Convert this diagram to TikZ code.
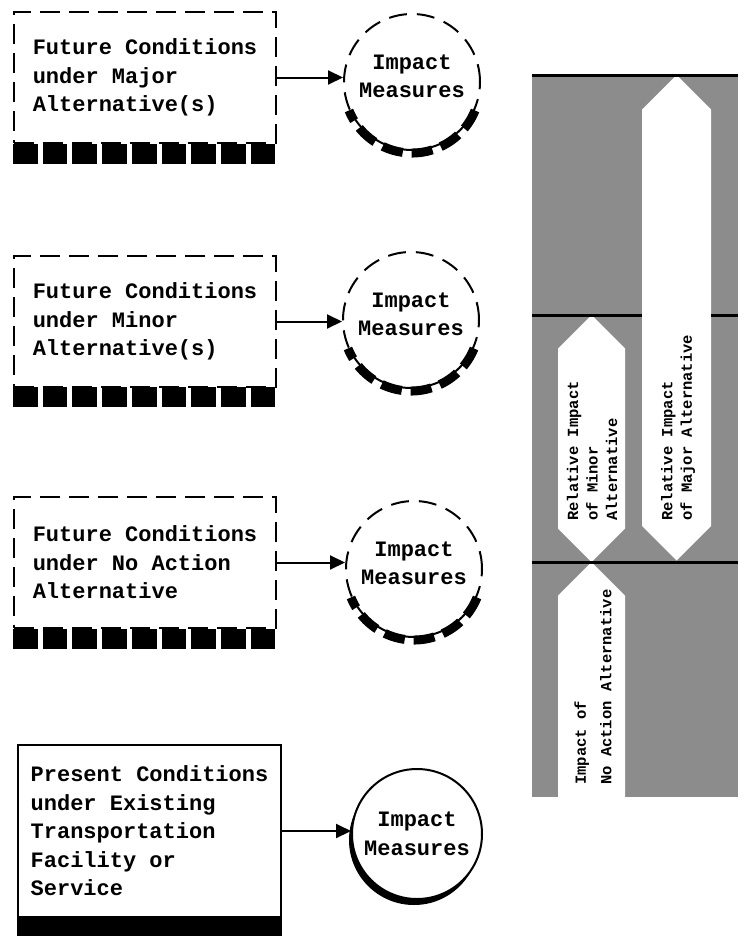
\documentclass[tikz,border=0pt]{standalone}
\usepackage{fontspec}
\setmonofont{Liberation Mono}
\usetikzlibrary{arrows.meta,shadows}
\definecolor{panelgray}{gray}{0.55}
\tikzset{
x=1pt, y=-1pt, % one unit is one pixel of the page, y runs down
>={Triangle[length=15pt,width=14pt]}, % filled arrow heads
every node/.style={font=\ttfamily\bfseries\fontsize{22}{28.5}\selectfont},
condbox/.style={draw, line width=2pt, fill=white, align=left, inner sep=0pt, minimum width=262pt, minimum height=131pt}, % condition boxes
futbox/.style={condbox, dash pattern=on 20pt off 9pt}, % future conditions are dashed
futband/.style={line width=20pt, dash pattern=on 24.7pt off 5pt}, % broken band below a future box
impact/.style={circle, draw, line width=2pt, fill=white, align=center, inner sep=0pt, minimum size=136pt},
futimpact/.style={impact, dash pattern=on 18pt off 10pt},
rimdash/.style={line width=9pt, dash pattern=on 21pt off 9pt}, % thick lower rim of a dashed circle
link/.style={->, line width=2pt},
panel text/.style={rotate=90, anchor=west, align=left, inner sep=2pt, font=\ttfamily\bfseries\fontsize{15.5}{19.5}\selectfont},
}
\begin{document}
\begin{tikzpicture}
\useasboundingbox (0,0) rectangle (744,937);

% condition boxes
\node[futbox] (major) at (145,77.5) {Future Conditions\\under Major\\Alternative(s)};
\node[futbox] (minor) at (145,321.5) {Future Conditions\\under Minor\\Alternative(s)};
\node[futbox] (noact) at (145,562.5) {Future Conditions\\under No Action\\Alternative};
\node[condbox, minimum width=263pt, minimum height=172pt] (present) at (149.5,831) {Present Conditions\\under Existing\\Transportation\\Facility or\\Service};
\draw[futband] ([yshift=-10pt]major.south west) -- ([yshift=-10pt]major.south east);
\draw[futband] ([yshift=-9pt]minor.south west) -- ([yshift=-9pt]minor.south east);
\draw[futband] ([yshift=-10pt]noact.south west) -- ([yshift=-10pt]noact.south east);
\fill (present.south west) rectangle ([yshift=-18pt]present.south east);

% impact measures
\node[futimpact] (impA) at (412,82) {Impact\\Measures\\[-16.5pt]};
\node[futimpact] (impB) at (411,320) {Impact\\Measures\\[-16.5pt]};
\node[futimpact] (impC) at (414,569) {Impact\\Measures\\[-16.5pt]};
\node[impact, minimum size=130pt, drop shadow={shadow xshift=-3pt, shadow yshift=-6pt, fill=black, opacity=1}] (impD) at (417,834) {Impact\\Measures};
\draw[rimdash] (impA.center) ++(0,3) ++(22:68) arc[start angle=22, end angle=158, radius=68];
\draw[rimdash] (impB.center) ++(0,3) ++(22:68) arc[start angle=22, end angle=158, radius=68];
\draw[rimdash] (impC.center) ++(0,3) ++(22:68) arc[start angle=22, end angle=158, radius=68];

\draw[link] (major.east) -- (major.east -| impA.west);
\draw[link] (minor.east) -- (minor.east -| impB.west);
\draw[link] (noact.east) -- (noact.east -| impC.west);
\draw[link] (present.east) -- (present.east -| impD.west);

% relative impact panel
\fill[panelgray] (532,75) rectangle (738,797);
\fill[white] (642,109.5) -- (676.5,75) -- (711,109.5) -- (711,526) -- (676.5,560.5) -- (642,526) -- cycle;
\fill[white] (558,348.5) -- (591.5,315) -- (625,348.5) -- (625,528.5) -- (591.5,562) -- (558,528.5) -- cycle;
\fill[white] (558,595.5) -- (591.5,562) -- (625,595.5) -- (625,797) -- (558,797) -- cycle;
\draw[line width=3pt] (532,75) -- (738,75);
\draw[line width=3pt] (532,315) -- (642,315) (711,315) -- (738,315);
\draw[line width=3pt] (532,562) -- (738,562);
\node[panel text] (majtxt) at (678,523) {Relative Impact\\of Major Alternative};
\node[panel text] (mintxt) at (592,523) {Relative Impact\\of Minor\\Alternative};
\node[panel text] (notxt) at (593,787) {Impact of\\[6pt]No Action Alternative};
\end{tikzpicture}
\end{document}
